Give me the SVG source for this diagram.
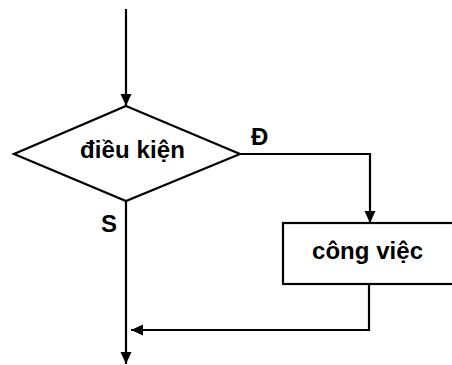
<svg xmlns="http://www.w3.org/2000/svg" width="452" height="365" viewBox="0 0 452 365">
  <style>
    .shape { fill: #fff; stroke: #000; stroke-width: 2.2; }
    .line { fill: none; stroke: #000; stroke-width: 2.2; }
    .label { font-family: "Liberation Sans", Arial, sans-serif; font-size: 24px; font-weight: bold; fill: #000; }
  </style>
  <defs>
    <marker id="arrow" viewBox="0 0 12 12" refX="12" refY="6" markerWidth="12" markerHeight="12" markerUnits="userSpaceOnUse" orient="auto">
      <path d="M0,0.5 L12,6 L0,11.5 Z" fill="#000"/>
    </marker>
  </defs>
  <rect width="452" height="365" fill="#fff"/>

  <g id="connectors">
    <!-- entry into the condition -->
    <path class="line" d="M126,9 V106" marker-end="url(#arrow)"/>
    <!-- true branch to the work box -->
    <path class="line" d="M240,154 H370 V223" marker-end="url(#arrow)"/>
    <!-- return from the work box -->
    <path class="line" d="M369,284 V330 H131" marker-end="url(#arrow)"/>
    <!-- false branch / exit -->
    <path class="line" d="M126,201 V364" marker-end="url(#arrow)"/>
    <text class="label" x="251" y="145">Đ</text>
    <text class="label" x="101" y="232">S</text>
  </g>

  <g id="condition">
    <polygon class="shape" points="126,106 240,154 126,201 14,154"/>
    <text class="label" x="80" y="158" textLength="105">điều kiện</text>
  </g>

  <g id="work">
    <rect class="shape" x="283" y="223" width="180" height="61"/>
    <text class="label" x="312" y="259" textLength="111">công việc</text>
  </g>
</svg>
